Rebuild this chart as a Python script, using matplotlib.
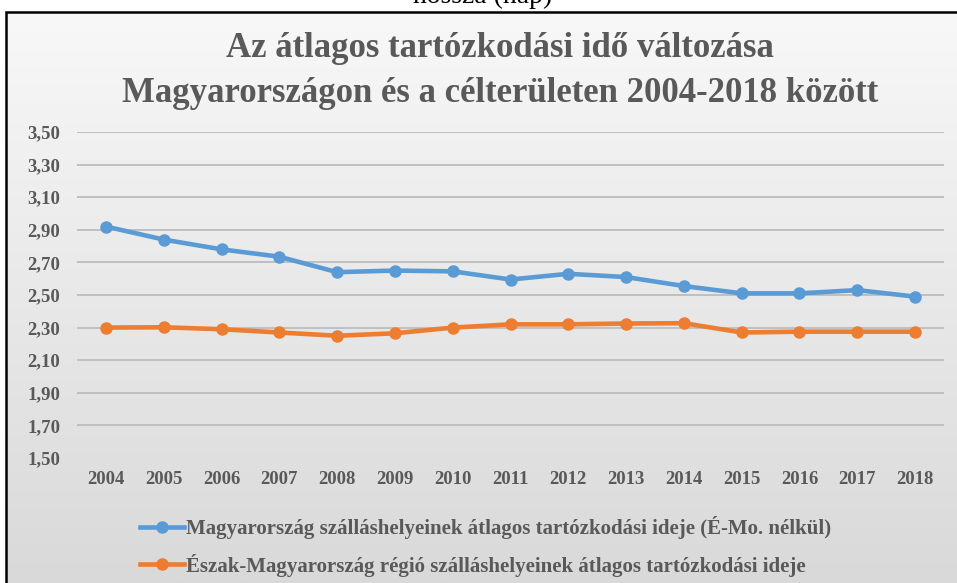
import numpy as np
import matplotlib
matplotlib.use("Agg")
import matplotlib.pyplot as plt
from matplotlib.patches import Rectangle

years = [str(y) for y in range(2004, 2019)]
hu_avg = [2.92, 2.84, 2.78, 2.735, 2.64, 2.65, 2.645, 2.595, 2.63, 2.61, 2.555, 2.51, 2.51, 2.53, 2.49]
north_avg = [2.30, 2.302, 2.29, 2.27, 2.25, 2.265, 2.30, 2.32, 2.32, 2.325, 2.327, 2.27, 2.275, 2.275, 2.275]
y_ticks = [1.50, 1.70, 1.90, 2.10, 2.30, 2.50, 2.70, 2.90, 3.10, 3.30, 3.50]

label_hu = "Magyarország szálláshelyeinek átlagos tartózkodási ideje (É-Mo. nélkül)"
label_north = "Észak-Magyarország régió szálláshelyeinek átlagos tartózkodási ideje"
title = "Az átlagos tartózkodási idő változása\nMagyarországon és a célterületen 2004-2018 között"

W, H = 957, 583
serif = "Liberation Serif"
gray = "#595959"
blue = "#5B9BD5"
orange = "#ED7D31"

fig = plt.figure(figsize=(W / 100, H / 100), dpi=100)
fig.patch.set_facecolor("white")

# background gradient of the chart box
bg = fig.add_axes([6 / W, 0, 1 - 6 / W, (H - 12) / H], zorder=-2)
grad = np.linspace(0, 1, 256).reshape(-1, 1)
bg.imshow(grad, aspect="auto", cmap=matplotlib.colors.LinearSegmentedColormap.from_list(
    "g", ["#f8f8f8", "#d9d9d9"]), extent=[0, 1, 0, 1], origin="upper")
bg.set_axis_off()

# chart box border (runs past the right and bottom edge)
fig.patches.append(Rectangle((6 / W, -0.1), 1.2, (H - 12) / H + 0.1,
                             transform=fig.transFigure, fill=False,
                             edgecolor="black", linewidth=1.8, zorder=5))

# caption above the box, cut off like in the source
fig.text(483 / W, 1 - 3 / H, "hossza (nap)", ha="center", va="baseline",
         family=serif, fontsize=20, color="black")

fig.text(500 / W, 1 - 71 / H, title, ha="center", va="center",
         family=serif, fontweight="bold", fontsize=25, color=gray, linespacing=1.45)

ax = fig.add_axes([77 / W, 125 / H, (944 - 77) / W, 326 / H])
ax.set_facecolor("none")
x = np.arange(len(years))
ax.plot(x, hu_avg, color=blue, linewidth=3.3, marker="o", markersize=8, label=label_hu)
ax.plot(x, north_avg, color=orange, linewidth=3.3, marker="o", markersize=8, label=label_north)

ax.set_xlim(-0.5, len(years) - 0.5)
ax.set_ylim(1.5, 3.5)
ax.set_xticks(x)
ax.set_xticklabels(years)
ax.set_yticks(y_ticks)
ax.set_yticklabels([f"{v:.2f}".replace(".", ",") for v in y_ticks])
for lab in ax.get_xticklabels() + ax.get_yticklabels():
    lab.set_family(serif)
    lab.set_fontweight("bold")
    lab.set_fontsize(13.5)
    lab.set_color(gray)
ax.tick_params(axis="both", length=0)
ax.tick_params(axis="y", pad=12)
ax.tick_params(axis="x", pad=9)
for s in ax.spines.values():
    s.set_visible(False)
ax.yaxis.grid(True, color="#bfbfbf", linewidth=1.4)
ax.yaxis.get_gridlines()[0].set_visible(False)
ax.set_axisbelow(True)

fig.legend(loc="upper left", bbox_to_anchor=(140 / W, 1 - 516 / H),
           frameon=False, prop={"family": serif, "weight": "bold", "size": 15},
           labelcolor=gray, handlelength=2.1, handletextpad=0.1,
           labelspacing=0.7, borderpad=0, borderaxespad=0)

fig.savefig("out.png", dpi=100)
